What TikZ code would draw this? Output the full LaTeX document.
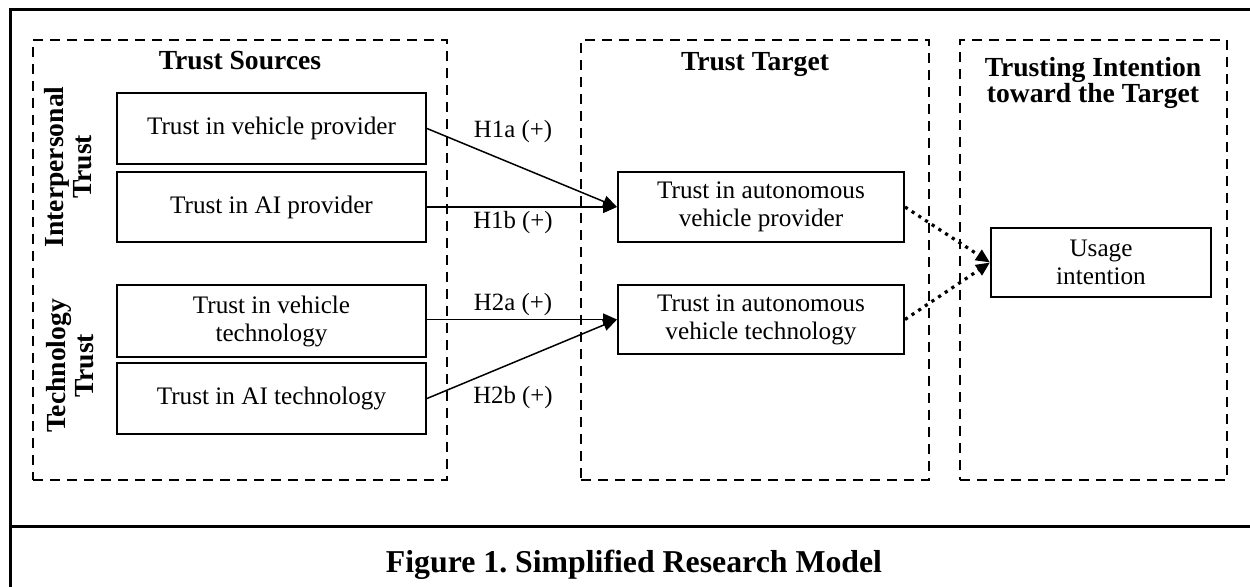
\documentclass[tikz,border=0pt]{standalone}
\usepackage{fontspec}
\setmainfont{Liberation Serif}
\usetikzlibrary{arrows.meta}
\frenchspacing
\tikzset{
  px/.style={x=0.5pt,y=-0.5pt},
  frameline/.style={line width=1.5pt},
  group/.style={draw,line width=1pt,dash pattern=on 5pt off 3.5pt,inner sep=0pt},
  box/.style={draw,line width=1pt,inner sep=0pt,align=center,font=\fontsize{12.6}{14}\selectfont},
  gtitle/.style={inner sep=0pt,align=center,font=\fontsize{13.8}{13.2}\selectfont\bfseries},
  sidetitle/.style={inner sep=0pt,align=center,rotate=90,font=\fontsize{13.8}{14.2}\selectfont\bfseries},
  hlabel/.style={inner sep=0pt,font=\fontsize{12.4}{14}\selectfont},
  solidarrow/.style={line width=0.75pt,-{Triangle[length=7pt,width=6pt]}},
  dotarrow/.style={line width=1.6pt,dash pattern=on 1.6pt off 2.4pt,-{Triangle[length=7pt,width=6pt]}},
}
\begin{document}
\begin{tikzpicture}[px]
\useasboundingbox (0,0) rectangle (1250,587);
\fill[white] (0,0) rectangle (1250,587);
% outer frame
\coordinate (ftl) at (10,10);
\coordinate (ftr) at (1250,10);
\coordinate (fbl) at (10,587);
\coordinate (sl) at (10,527);
\coordinate (sr) at (1250,527);
\draw[frameline] (ftr) -- (ftl) -- (fbl);
\draw[frameline] (sl) -- (sr);
% groups
\node[group,minimum width=207pt,minimum height=220pt] (g1) at (240,260) {};
\node[group,minimum width=174pt,minimum height=220pt] (g2) at (755,260) {};
\node[group,minimum width=133.5pt,minimum height=220pt] (g3) at (1093.5,260) {};
% titles
\node[gtitle,anchor=base] (t1) at (240,70) {Trust Sources};
\node[gtitle,anchor=base] (t2) at (755,71) {Trust Target};
\node[gtitle] (t3) at (1093,83) {Trusting Intention\\toward the Target};
\node[sidetitle] (r1) at (68,167) {Interpersonal\\Trust};
\node[sidetitle] (r2) at (70,366) {Technology\\Trust};
% source boxes
\node[box,minimum width=154.5pt,minimum height=35.5pt] (b1) at (271.5,128.5) {Trust in vehicle provider};
\node[box,minimum width=154.5pt,minimum height=35pt] (b2) at (271.5,207) {Trust in AI provider};
\node[box,minimum width=154.5pt,minimum height=36pt] (b3) at (271.5,321) {Trust in vehicle\\technology};
\node[box,minimum width=154.5pt,minimum height=35.5pt] (b4) at (271.5,398.5) {Trust in AI technology};
% target boxes
\node[box,minimum width=143pt,minimum height=35pt] (ta) at (761,207) {Trust in autonomous\\vehicle provider};
\node[box,minimum width=143pt,minimum height=34.5pt] (tb) at (761,319.5) {Trust in autonomous\\vehicle technology};
% usage
\node[box,minimum width=110pt,minimum height=34.5pt] (u) at (1101,262.5) {Usage\\intention};
% arrows
\draw[solidarrow] (b1.east) -- (ta.west);
\draw[solidarrow] (b2.east) -- (ta.west);
\draw[solidarrow] (b3.east |- tb.west) -- (tb.west);
\draw[solidarrow] (b4.east) -- (tb.west);
\draw[dotarrow] (ta.east) -- (u.west);
\draw[dotarrow] (tb.east) -- (u.west);
% labels
\node[hlabel] (h1a) at (513,132) {H1a (+)};
\node[hlabel] (h1b) at (513,223) {H1b (+)};
\node[hlabel] (h2a) at (513,305) {H2a (+)};
\node[hlabel] (h2b) at (513,398) {H2b (+)};
% caption
\node[inner sep=0pt,font=\fontsize{15.9}{18}\selectfont\bfseries] (cap) at (634,565) {Figure 1. Simplified Research Model};
\end{tikzpicture}
\end{document}
